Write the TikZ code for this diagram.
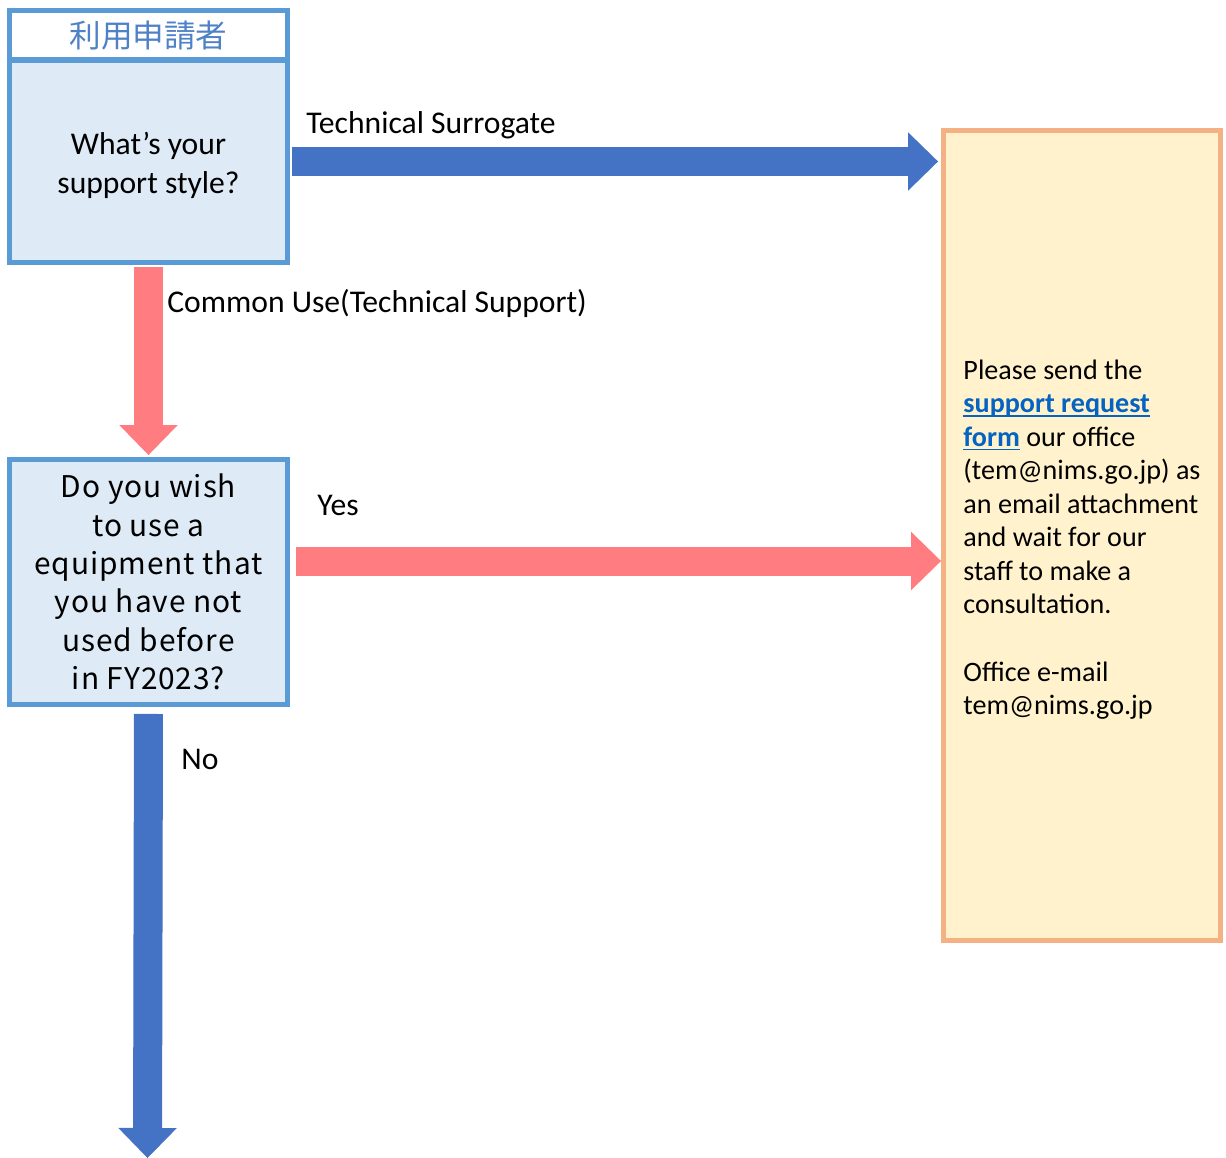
\documentclass[tikz,border=0pt]{standalone}
\usepackage{fontspec}
\usepackage{xcolor}
\usetikzlibrary{arrows.meta}
\setmainfont{Carlito}
\newfontfamily\jpfont{Noto Sans CJK JP}
\newfontfamily\jplatin{Noto Sans CJK JP}[LetterSpace=3]

\definecolor{boxline}{HTML}{5B9BD5}
\definecolor{boxfill}{HTML}{DEEBF7}
\definecolor{headtext}{HTML}{4F81C7}
\definecolor{arrowblue}{HTML}{4472C4}
\definecolor{arrowpink}{HTML}{FF7C80}
\definecolor{formline}{HTML}{F4B183}
\definecolor{formfill}{HTML}{FFF2CC}
\definecolor{linkblue}{HTML}{0563C1}

\newcommand\weblink[1]{{\color{linkblue}\setbox0\hbox{\bfseries #1}\rlap{\rule[-2.4pt]{\wd0}{0.9pt}}\box0\relax}}

\begin{document}
\begin{tikzpicture}[
    x=0.02cm, y=-0.02cm,
    qbox/.style={rectangle, draw=boxline, fill=boxfill, line width=0.1cm, minimum width=5.56cm, align=center},
    formbox/.style={rectangle, draw=formline, fill=formfill, line width=0.1cm, minimum width=5.54cm, minimum height=16.2cm, align=left, font=\fontsize{16}{19.1}\selectfont},
    bigarrow/.style={line width=0.58cm, -{Triangle[length=0.6cm, width=1.17cm, line width=0pt]}},
    lbl/.style={anchor=base west, inner sep=0pt, font=\fontsize{18}{22}\selectfont}
]
\useasboundingbox (0,0) rectangle (1226,1158);

% Applicant box
\node[qbox, fill=white, minimum height=0.99cm, font=\jpfont\fontsize{18}{22}\selectfont, text=headtext] (head) at (148.5,35.25) {利用申請者};
\node[qbox, minimum height=4.06cm, font=\fontsize{18}{22}\selectfont] (style) at (148.5,161.5) {\\[-0.16cm]What’s your\\support style?};

% Second question
\node[qbox, minimum height=4.9cm, font=\jplatin\fontsize{17}{21.8}\selectfont] (newuse) at (148.5,582) {Do you wish\\to use a\\equipment that\\you have not\\used before\\in FY2023?};

% Request form box
\node[formbox] (form) at (1082,535.5) {\\[-0.12cm]Please send the\\\weblink{support request}\\\weblink{form} our office\\(tem@nims.go.jp) as\\an email attachment\\and wait for our\\staff to make a\\consultation.\\[19.1pt]Office e-mail\\tem@nims.go.jp};

% Arrows
\coordinate (yesL) at ([yshift=0.42cm]newuse.east);
\coordinate (yesR) at (yesL -| form.west);
\coordinate (noEnd) at (147.5,1158);
\draw[bigarrow, arrowblue, shorten <=0.04cm, shorten >=0.06cm] (style.east) -- (style.east -| form.west);
\draw[bigarrow, arrowpink, shorten <=0.04cm, shorten >=0.04cm] (style.south) -- (newuse.north);
\draw[bigarrow, arrowpink, shorten <=0.12cm] (yesL) -- (yesR);
\draw[bigarrow, arrowblue, shorten <=0.14cm] (newuse.south) -- (noEnd);

% Arrow labels
\node[lbl] (surr) at (306,134) {Technical Surrogate};
\node[lbl] (common) at (167,313) {Common Use(Technical Support)};
\node[lbl] (yes) at (317,515) {Yes};
\node[lbl] (no) at (181,769) {No};

\end{tikzpicture}
\end{document}
